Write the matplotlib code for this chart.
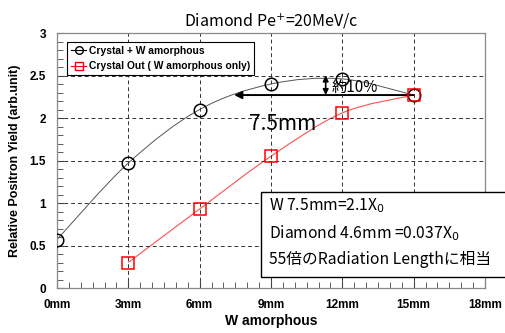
"""Diamond Pe+=20MeV/c : positron yield vs W amorphous thickness."""

import matplotlib

matplotlib.use("Agg")
import matplotlib.pyplot as plt
import numpy as np
from matplotlib.lines import Line2D
from matplotlib.patches import PathPatch
from matplotlib.path import Path
from matplotlib.ticker import MultipleLocator

plt.rcParams["font.family"] = ["Liberation Sans", "DejaVu Sans"]
plt.rcParams["mathtext.fontset"] = "dejavusans"

# data
thick_crystal = [0, 3, 6, 9, 12, 15]
yield_crystal = [0.57, 1.47, 2.10, 2.40, 2.46, 2.27]
thick_amorph = [3, 6, 9, 12, 15]
yield_amorph = [0.30, 0.93, 1.55, 2.06, 2.27]
x_ticks = [0, 3, 6, 9, 12, 15, 18]
x_labels = ["0mm", "3mm", "6mm", "9mm", "12mm", "15mm", "18mm"]
y_ticks = [0, 0.5, 1, 1.5, 2, 2.5, 3]
y_labels = ["0", "0.5", "1", "1.5", "2", "2.5", "3"]
info_lines = ["W 7.5mm=2.1X$_0$", "Diamond 4.6mm =0.037X$_0$", "55倍のRadiation Lengthに相当"]

JP = ["Noto Sans CJK JP", "DejaVu Sans"]


def smooth_path(xs, ys):
    # Catmull-Rom style bezier, like a spreadsheet "smoothed line"
    p = np.column_stack([xs, ys]).astype(float)
    verts, codes = [p[0]], [Path.MOVETO]
    n = len(p)
    for i in range(n - 1):
        p0 = p[i - 1] if i > 0 else p[i]
        p3 = p[i + 2] if i + 2 < n else p[i + 1]
        c1 = p[i] + (p[i + 1] - p0) / 6
        c2 = p[i + 1] - (p3 - p[i]) / 6
        verts += [c1, c2, p[i + 1]]
        codes += [Path.CURVE4] * 3
    return Path(verts, codes)


fig = plt.figure(figsize=(5.06, 3.33), dpi=100)
ax = fig.add_axes([0.1126, 0.1351, 0.8459, 0.7658])

ax.add_patch(PathPatch(smooth_path(thick_crystal, yield_crystal), fc="none", ec="#555555", lw=0.7))
ax.add_patch(PathPatch(smooth_path(thick_amorph, yield_amorph), fc="none", ec="#ff5050", lw=0.8))
ax.plot(thick_crystal, yield_crystal, ls="none", marker="o", ms=9, mfc="none", mec="black", mew=1.1, zorder=4)
ax.plot(thick_amorph, yield_amorph, ls="none", marker="s", ms=8.5, mfc="none", mec="#ff0000", mew=1.1, zorder=5)

ax.set_xlim(0, 18)
ax.set_ylim(0, 3)
ax.set_xticks(x_ticks)
ax.set_xticklabels(x_labels, fontweight="bold", fontsize=8.5)
ax.set_yticks(y_ticks)
ax.set_yticklabels(y_labels, fontweight="bold", fontsize=8.5)
ax.xaxis.set_minor_locator(MultipleLocator(0.5))
ax.yaxis.set_minor_locator(MultipleLocator(0.1))
ax.tick_params(which="both", direction="in", color="#444444")
ax.tick_params(which="major", length=5, pad=8)
ax.tick_params(which="minor", length=4)
ax.grid(True, which="major", ls=(0, (4, 3)), color="#333333", lw=0.7)
for s in ax.spines.values():
    s.set_color("#888888")
    s.set_linewidth(0.9)

ax.set_xlabel("W amorphous", fontweight="bold", fontsize=10, labelpad=2)
ax.set_ylabel("Relative Positron Yield (arb.unit)", fontweight="bold", fontsize=9, labelpad=6)
ax.set_title("Diamond Pe$^{+}$=20MeV/c", fontsize=11.5, family=JP, pad=5)

handles = [
    Line2D([], [], color="black", lw=0.8, marker="o", ms=5.5, mfc="none", mec="black"),
    Line2D([], [], color="#ff0000", lw=0.8, marker="s", ms=5.5, mfc="none", mec="#ff0000"),
]
leg = ax.legend(handles, ["Crystal + W amorphous", "Crystal Out ( W amorphous only)"],
                loc="upper left", bbox_to_anchor=(0.024, 0.963), fancybox=False,
                framealpha=1, edgecolor="black", handlelength=1.5, handletextpad=0.3,
                borderpad=0.35, labelspacing=0.5, borderaxespad=0,
                prop={"weight": "bold", "size": 7.4})
leg.get_frame().set_linewidth(0.8)

# 7.5mm shift and ~10% gain
ax.annotate("", xy=(7.45, 2.27), xytext=(15.0, 2.27),
            arrowprops=dict(arrowstyle="-|>", color="black", lw=1.4, mutation_scale=11,
                            shrinkA=0, shrinkB=0))
ax.annotate("", xy=(11.3, 2.27), xytext=(11.3, 2.50),
            arrowprops=dict(arrowstyle="<|-|>", color="black", lw=1.2, mutation_scale=8,
                            shrinkA=0, shrinkB=0))
ax.text(11.55, 2.36, "約10%", family=JP, fontsize=11, va="center", ha="left")
ax.text(9.5, 1.93, "7.5mm", family=JP, fontsize=15, va="center", ha="center")

ax.add_patch(plt.Rectangle((8.6, 0.13), 12.0, 1.0, fc="white", ec="black", lw=1.0,
                           zorder=6, clip_on=False))
for i, line in enumerate(info_lines):
    ax.text(8.9, 0.97 - i * 0.32, line, family=JP, fontsize=11.3, va="center", ha="left", zorder=7)

fig.savefig("out.png", dpi=100)
